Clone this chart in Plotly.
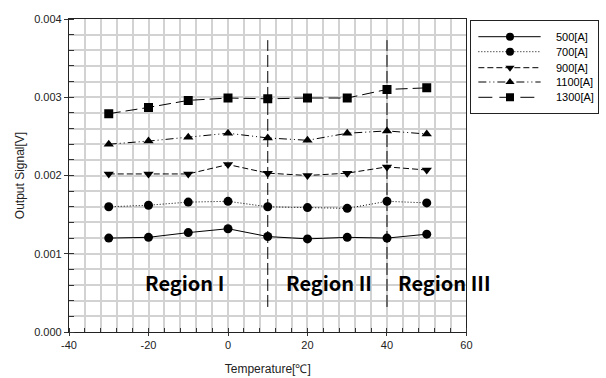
import plotly.graph_objects as go

# Temperature sweep (°C) and output signal (V) for each current level
temperatures = [-30, -20, -10, 0, 10, 20, 30, 40, 50]
series_names = ["500[A]", "700[A]", "900[A]", "1100[A]", "1300[A]"]
signal_500 = [0.00120, 0.00121, 0.00127, 0.00132, 0.00122, 0.00119, 0.00121, 0.00120, 0.00125]
signal_700 = [0.00160, 0.00162, 0.00166, 0.00167, 0.00160, 0.00159, 0.00158, 0.00167, 0.00165]
signal_900 = [0.00202, 0.00202, 0.00202, 0.00214, 0.00203, 0.00200, 0.00203, 0.00211, 0.00207]
signal_1100 = [0.00240, 0.00244, 0.00249, 0.00254, 0.00248, 0.00245, 0.00254, 0.00257, 0.00253]
signal_1300 = [0.00279, 0.00287, 0.00296, 0.00299, 0.00298, 0.00299, 0.00299, 0.00310, 0.00312]

# Axis tick labels
x_tick_vals = [-40, -20, 0, 20, 40, 60]
x_tick_text = ["-40", "-20", "0", "20", "40", "60"]

# Region boundaries and labels
boundary_temps = [10, 40]
region_labels = ["Region I", "Region II", "Region III"]
region_label_x = [-11, 25.4, 54.3]

all_signals = [signal_500, signal_700, signal_900, signal_1100, signal_1300]
symbols = ["circle", "circle", "triangle-down", "triangle-up", "square"]
dashes = ["solid", "1px,2px", "6px,3px", "8px,3px,1px,3px,1px,3px", "12px,5px"]
legend_dashes = ["solid", "1px,2px", "6px,3px", "8px,3px,1px,3px,1px,3px", "14px,7px"]

W, H = 606, 378
M_L, M_R, M_T, M_B = 69, 2, 19, 46
paper_w = W - M_L - M_R
paper_h = H - M_T - M_B
plot_right = 471
legend_box = (476, 604, 21, 113)  # left, right, top, bottom in px

fig = go.Figure()

# Main curves
for name, ys, sym, dash in zip(series_names, all_signals, symbols, dashes):
    fig.add_trace(go.Scatter(
        x=temperatures, y=ys, mode="lines+markers", name=name,
        line=dict(color="black", width=1, dash=dash),
        marker=dict(symbol=sym, size=9, color="black"),
        showlegend=False, xaxis="x", yaxis="y",
    ))

# Region boundaries
for t in boundary_temps:
    fig.add_shape(type="line", xref="x", yref="y", x0=t, x1=t, y0=0.00032, y1=0.00373,
                  line=dict(color="black", width=1, dash="12px,4px"))

# Region labels
for lbl, lx in zip(region_labels, region_label_x):
    fig.add_annotation(x=lx, y=0.00063, xref="x", yref="y", text=lbl, showarrow=False,
                       font=dict(family="Noto Sans CJK JP, Noto Sans, sans-serif",
                                 size=20, color="black", weight="bold"),
                       xanchor="center", yanchor="middle")

# Custom legend drawn in its own inset axes (pixel units)
lg_w = legend_box[1] - legend_box[0]
lg_h = legend_box[3] - legend_box[2]
row_y = [15.7, 30.7, 46.7, 61.0, 76.3]
for name, sym, dash, ry in zip(series_names, symbols, legend_dashes, row_y):
    fig.add_trace(go.Scatter(
        x=[7, 39, 70], y=[ry, ry, ry], mode="lines", line=dict(color="black", width=1, dash=dash),
        showlegend=False, hoverinfo="skip", xaxis="x2", yaxis="y2"))
    fig.add_trace(go.Scatter(
        x=[39], y=[ry], mode="markers", marker=dict(symbol=sym, size=8, color="black"),
        showlegend=False, hoverinfo="skip", xaxis="x2", yaxis="y2"))
    fig.add_annotation(x=84, y=ry, xref="x2", yref="y2", text=name, showarrow=False,
                       xanchor="left", yanchor="middle",
                       font=dict(family="Liberation Sans, Arial", size=11, color="black"))

axis_font = dict(family="Liberation Sans, Arial", size=11, color="#222")
grid_col = "#d2d2d2"

fig.update_layout(
    width=W, height=H,
    margin=dict(l=M_L, r=M_R, t=M_T, b=M_B, pad=0),
    paper_bgcolor="white", plot_bgcolor="white",
    xaxis=dict(
        domain=[0, (plot_right - M_L) / paper_w],
        range=[-40, 60], tickmode="array", tickvals=x_tick_vals, ticktext=x_tick_text,
        ticks="outside", ticklen=3, tickcolor="#333",
        showgrid=True, gridcolor=grid_col, gridwidth=1.5,
        minor=dict(dtick=4, tick0=-40, showgrid=True, gridcolor=grid_col, gridwidth=1.5,
                   ticks="inside", ticklen=4, tickcolor="#333"),
        showline=True, linecolor="#222", linewidth=1.2, mirror=True,
        zeroline=False, tickfont=axis_font,
        title=dict(text="Temperature[℃]", font=dict(family="Liberation Sans, Arial", size=12, color="#222"),
                   standoff=14),
    ),
    yaxis=dict(
        domain=[0, 1],
        range=[0, 0.004], tickmode="linear", tick0=0, dtick=0.001, tickformat=".3f",
        ticks="outside", ticklen=4, tickcolor="#333",
        showgrid=True, gridcolor=grid_col, gridwidth=1.5,
        minor=dict(dtick=0.0002, tick0=0, showgrid=True, gridcolor=grid_col, gridwidth=1.5,
                   ticks="inside", ticklen=5, tickcolor="#333"),
        showline=True, linecolor="#222", linewidth=1.2, mirror=True,
        zeroline=False, tickfont=axis_font,
        title=dict(text="Output Signal[V]", font=dict(family="Liberation Sans, Arial", size=12, color="#222"),
                   standoff=6),
    ),
    xaxis2=dict(
        domain=[(legend_box[0] - M_L) / paper_w, (legend_box[1] - M_L) / paper_w],
        range=[0, lg_w], anchor="y2", showgrid=False, zeroline=False, showticklabels=False,
        ticks="", showline=True, linecolor="#222", linewidth=1.2, mirror=True, fixedrange=True,
    ),
    yaxis2=dict(
        domain=[(H - M_B - legend_box[3]) / paper_h, (H - M_B - legend_box[2]) / paper_h],
        range=[lg_h, 0], anchor="x2", showgrid=False, zeroline=False, showticklabels=False,
        ticks="", showline=True, linecolor="#222", linewidth=1.2, mirror=True, fixedrange=True,
    ),
)

fig.write_html("out.html")
